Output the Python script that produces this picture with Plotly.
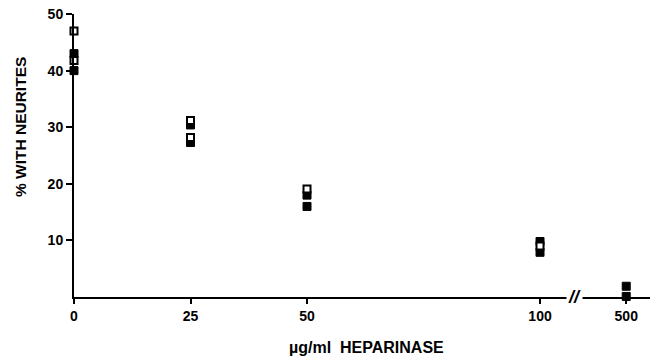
import plotly.graph_objects as go

# Data
tick_labels = ["0", "25", "50", "100", "500"]
tick_positions = [0, 25, 50, 100, 118.5]  # 500 drawn after the axis break

open_x = [0, 0, 25, 25, 50, 100]
open_y = [47, 41.8, 31.2, 28.2, 19.1, 9.0]

filled_x = [0, 0, 25, 25, 50, 50, 100, 100, 118.5, 118.5]
filled_y = [43.0, 40.0, 30.4, 27.3, 18.0, 16.0, 9.8, 7.9, 1.9, 0.1]

y_ticks = [10, 20, 30, 40, 50]

font_family = "Liberation Sans, Arial, sans-serif"

fig = go.Figure()
fig.add_trace(go.Scatter(
    x=filled_x, y=filled_y, mode="markers", cliponaxis=False,
    marker=dict(symbol="square", size=8, color="black",
                line=dict(color="black", width=1)),
    showlegend=False))
fig.add_trace(go.Scatter(
    x=open_x, y=open_y, mode="markers", cliponaxis=False,
    marker=dict(symbol="square", size=7, color="white",
                line=dict(color="black", width=2)),
    showlegend=False))

fig.update_layout(
    width=650, height=358,
    margin=dict(l=74, r=0, t=14, b=61),
    paper_bgcolor="white", plot_bgcolor="white",
    font=dict(family=font_family, color="black", size=14),
    xaxis=dict(
        range=[0, 123.6], showgrid=False, zeroline=False,
        showline=True, linecolor="black", linewidth=2,
        ticks="outside", ticklen=5, tickwidth=1.5, tickcolor="black",
        tickvals=tick_positions, ticktext=tick_labels,
        tickfont=dict(family=font_family, size=14, weight="bold"),
    ),
    yaxis=dict(
        range=[0, 50], showgrid=False, zeroline=False,
        showline=True, linecolor="black", linewidth=2,
        ticks="outside", ticklen=6, tickwidth=1.5, tickcolor="black",
        tickvals=y_ticks, ticktext=[str(v) for v in y_ticks],
        tickfont=dict(family=font_family, size=14, weight="bold"),
    ),
    annotations=[
        dict(text="% WITH NEURITES", xref="paper", yref="paper",
             x=-0.094, y=0.6, textangle=-90, showarrow=False,
             xanchor="center", yanchor="middle",
             font=dict(family=font_family, size=15.5, weight="bold")),
        dict(text="µg/ml  HEPARINASE", xref="paper", yref="paper",
             x=(366 - 74) / 576, y=-0.177, showarrow=False,
             xanchor="center", yanchor="middle",
             font=dict(family=font_family, size=16, weight="bold")),
        dict(text="<i>//</i>", xref="x", yref="y", x=107.5, y=0,
             showarrow=False, xanchor="center", yanchor="middle",
             bgcolor="white",
             font=dict(family=font_family, size=18, weight="bold")),
    ],
)

fig.write_html("out.html")
